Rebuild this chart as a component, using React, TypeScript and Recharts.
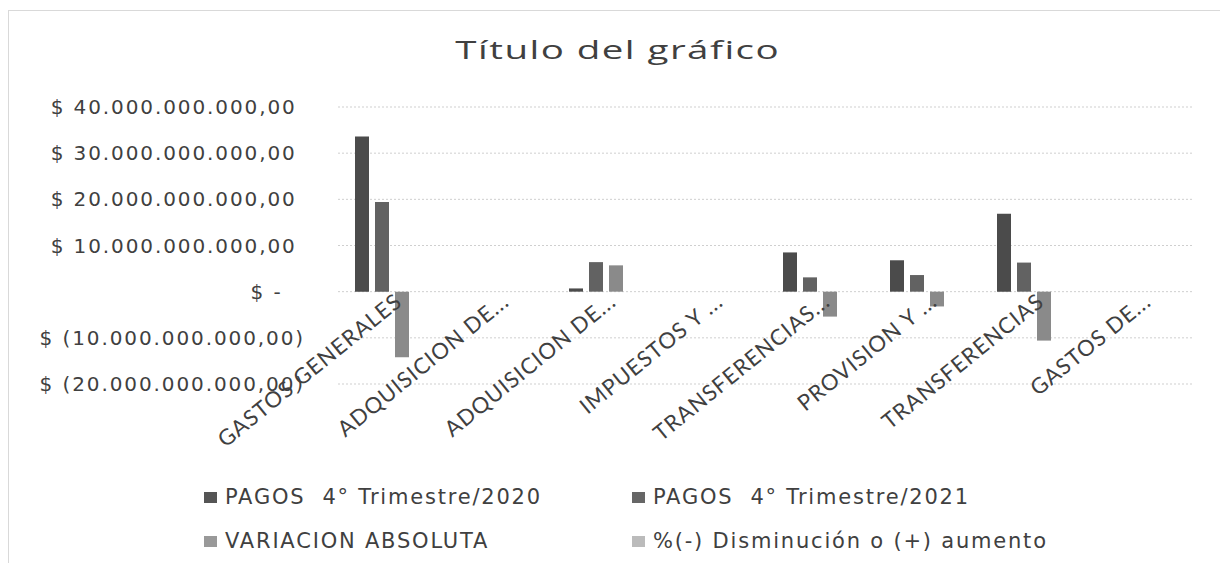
import React from 'react';
import { BarChart, Bar, XAxis, YAxis, CartesianGrid, Legend } from 'recharts';

const categories = [
  'GASTOS GENERALES',
  'ADQUISICION DE...',
  'ADQUISICION DE...',
  'IMPUESTOS Y ...',
  'TRANSFERENCIAS...',
  'PROVISION Y ...',
  'TRANSFERENCIAS',
  'GASTOS DE...',
];
const pagos2020 = [33.6e9, 0, 0.7e9, 0, 8.5e9, 6.8e9, 16.9e9, 0];
const pagos2021 = [19.4e9, 0, 6.4e9, 0, 3.1e9, 3.6e9, 6.3e9, 0];
const variacion = [-14.2e9, 0, 5.7e9, 0, -5.4e9, -3.2e9, -10.6e9, 0];
const porcentaje = [-0.42, 0, 8.14, 0, -0.64, -0.47, -0.63, 0];
const yTicks = [-20e9, -10e9, 0, 10e9, 20e9, 30e9, 40e9];

const seriesNames = [
  'PAGOS  4° Trimestre/2020',
  'PAGOS  4° Trimestre/2021',
  'VARIACION ABSOLUTA',
  '%(-) Disminución o (+) aumento',
];
const barColors = ['#4b4b4b', '#626262', '#8a8a8a', '#b4b4b4'];
const legendColors = ['#555555', '#666666', '#999999', '#bbbbbb'];

const data = categories.map((name, i) => ({
  name,
  p2020: pagos2020[i],
  p2021: pagos2021[i],
  variacion: variacion[i],
  porcentaje: porcentaje[i],
}));

function groupThousands(n: number): string {
  const s = Math.round(n).toString();
  return s.replace(/\B(?=(\d{3})+(?!\d))/g, '.');
}

function formatY(v: number): string {
  if (v === 0) return '$ -\u00A0\u00A0\u2009';
  const s = groupThousands(Math.abs(v)) + ',00';
  if (v < 0) return '$ (' + s + ')';
  return '$ ' + s + '\u00A0';
}

const XTick = (props: any) => {
  const { x, y, payload } = props;
  return (
    <g transform={`translate(${x + 12},${y - 80})`}>
      <text
        textAnchor="end"
        transform="rotate(-39)"
        fontFamily="Lato"
        fontSize={22}
        letterSpacing={1}
        fill="#404040"
      >
        {payload.value}
      </text>
    </g>
  );
};

const LegendContent = () => {
  const cols = [195, 623];
  const rows = [8, 52];
  return (
    <div style={{ position: 'relative', height: 84, width: 1212 }}>
      {seriesNames.map((name, i) => (
        <div
          key={i}
          style={{
            position: 'absolute',
            left: cols[i % 2],
            top: rows[Math.floor(i / 2)],
            height: 24,
            display: 'flex',
            alignItems: 'center',
            whiteSpace: 'pre',
            fontFamily: 'DejaVu Sans',
            fontSize: 21,
            letterSpacing: 1.8,
            color: '#404040',
          }}
        >
          <span
            style={{
              display: 'inline-block',
              width: 13,
              height: 11,
              background: legendColors[i],
              marginRight: 8,
            }}
          />
          {name}
        </div>
      ))}
    </div>
  );
};

export default function App() {
  return (
    <div
      style={{
        position: 'relative',
        top: 2,
        width: 1212,
        height: 553,
        border: '1px solid #d9d9d9',
        background: '#ffffff',
      }}
    >
      <div
        style={{
          position: 'absolute',
          left: 0,
          width: 1212,
          top: 20,
          textAlign: 'center',
          pointerEvents: 'none',
          zIndex: 2,
        }}
      >
        <span
          style={{
            display: 'inline-block',
            fontFamily: 'Open Sans',
            fontSize: 26,
            letterSpacing: 1,
            color: '#404040',
            transform: 'scaleX(1.48)',
            marginLeft: 6,
          }}
        >
          Título del gráfico
        </span>
      </div>
      <BarChart
        width={1212}
        height={553}
        data={data}
        margin={{ top: 96, right: 27, left: 0, bottom: 3 }}
        barSize={14}
        barGap={6}
      >
        <CartesianGrid vertical={false} stroke="#cfcfcf" strokeDasharray="2 2" />
        <XAxis
          dataKey="name"
          interval={0}
          tickLine={false}
          axisLine={false}
          tickSize={0}
          tickMargin={0}
          height={93}
          tick={<XTick />}
        />
        <YAxis
          width={329}
          domain={[-20e9, 40e9]}
          ticks={yTicks}
          tickFormatter={formatY}
          tickLine={false}
          axisLine={false}
          tickSize={0}
          tickMargin={33}
          interval={0}
          tick={{
            fontFamily: 'DejaVu Sans',
            fontSize: 20,
            fill: '#404040',
            letterSpacing: 1.9,
          }}
        />
        <Legend verticalAlign="bottom" content={<LegendContent />} />
        <Bar dataKey="p2020" name={seriesNames[0]} fill={barColors[0]} isAnimationActive={false} />
        <Bar dataKey="p2021" name={seriesNames[1]} fill={barColors[1]} isAnimationActive={false} />
        <Bar dataKey="variacion" name={seriesNames[2]} fill={barColors[2]} isAnimationActive={false} />
        <Bar dataKey="porcentaje" name={seriesNames[3]} fill={barColors[3]} isAnimationActive={false} />
      </BarChart>
    </div>
  );
}
